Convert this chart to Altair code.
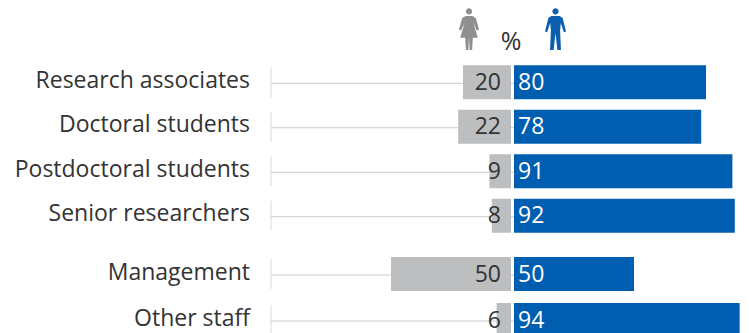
import altair as alt
import pandas as pd

cats_a = ["Research associates", "Doctoral students", "Postdoctoral students", "Senior researchers"]
women_a = [20, 22, 9, 8]
men_a = [80, 78, 91, 92]
cats_b = ["Management", "Other staff"]
women_b = [50, 6]
men_b = [50, 94]

FONT = "Open Sans"
GREY = "#bcbec0"
BLUE = "#005eb0"
LINE = "#c9cacc"
TEXT = "#333333"
WIDTH = 733
XS = alt.Scale(domain=[-503 / 2.4, (WIDTH - 503) / 2.4], range=[0, WIDTH], nice=False, zero=False)

MAN = ("M-0.15,-0.84a0.15,0.15 0 1,0 0.3,0a0.15,0.15 0 1,0 -0.3,0Z"
       "M-0.2,-0.62L0.2,-0.62L0.34,-0.52L0.5,0.12L0.4,0.16L0.25,-0.28L0.22,0.1L0.26,1L0.09,1L0,0.2"
       "L-0.09,1L-0.26,1L-0.22,0.1L-0.25,-0.28L-0.4,0.16L-0.5,0.12L-0.34,-0.52Z")
WOMAN = ("M-0.15,-0.84a0.15,0.15 0 1,0 0.3,0a0.15,0.15 0 1,0 -0.3,0Z"
         "M-0.16,-0.62L0.16,-0.62L0.32,-0.52L0.48,0.02L0.37,0.07L0.2,-0.3L0.42,0.42L0.18,0.42L0.15,1L0.03,1L0,0.42"
         "L-0.03,1L-0.15,1L-0.18,0.42L-0.42,0.42L-0.2,-0.3L-0.37,0.07L-0.48,0.02L-0.32,-0.52Z")


def panel(cats, women, men, height, extent):
    df = pd.DataFrame({"cat": cats, "women": [-w for w in women], "wlabel": women, "men": men})
    y = alt.Y("cat:N", sort=cats, axis=None,
              scale=alt.Scale(domain=cats, range=[0, extent]))
    base = alt.Chart(df).encode(y=y).transform_calculate(zero="0")
    x = alt.X("zero:Q", scale=XS, axis=None)
    rule = base.mark_rule(color=LINE, strokeWidth=1, clip=True, yOffset=1).encode(
        x=alt.value(263), x2=alt.value(506))
    tick = base.mark_tick(color=LINE, thickness=1, size=30, clip=True).encode(x=alt.value(263))
    wbar = base.mark_bar(color=GREY, size=34, clip=True).encode(
        x=alt.X("women:Q", scale=XS, axis=None), x2=alt.X2("zero:Q"))
    mbar = base.mark_bar(color=BLUE, size=34, xOffset=3, x2Offset=3, clip=True).encode(
        x=alt.X("men:Q", scale=XS, axis=None), x2=alt.X2("zero:Q"))
    names = base.mark_text(font=FONT, fontSize=23, color=TEXT, align="right", baseline="middle",
                           dy=-1.5, clip=True).encode(x=alt.value(242), text="cat:N")
    wtext = base.mark_text(font=FONT, fontSize=23, color=TEXT, align="right", baseline="middle",
                           dx=-10, dy=0.5, clip=True).encode(x=x, text="wlabel:Q")
    mtext = base.mark_text(font=FONT, fontSize=23, color="white", align="left", baseline="middle",
                           dx=7, dy=0.5, clip=True).encode(x=x, text="men:Q")
    return alt.layer(rule, tick, wbar, mbar, names, wtext, mtext).properties(width=WIDTH, height=height)


hdr = pd.DataFrame({"label": ["%"]})
percent = alt.Chart(hdr).mark_text(font=FONT, fontSize=25, color=TEXT, align="center", baseline="alphabetic").encode(
    x=alt.value(503), y=alt.value(42), text="label:N")
woman = alt.Chart(hdr).mark_point(shape=WOMAN, size=1764, filled=True, opacity=1, color="#8e8f91", strokeWidth=0, clip=True).encode(
    x=alt.value(461), y=alt.value(21))
man = alt.Chart(hdr).mark_point(shape=MAN, size=1764, filled=True, opacity=1, color="#0b5fae", strokeWidth=0, clip=True).encode(
    x=alt.value(547.5), y=alt.value(21))
header = alt.layer(percent, woman, man).properties(width=WIDTH, height=52)

chart = alt.vconcat(
    header,
    panel(cats_a, women_a, men_a, 191, 178),
    panel(cats_b, women_b, men_b, 82, 92),
    spacing=0,
).properties(padding=0, background="white").configure_view(stroke=None).configure_concat(spacing=0)

chart.save("out.html", embed_options={"renderer": "svg", "actions": False})
